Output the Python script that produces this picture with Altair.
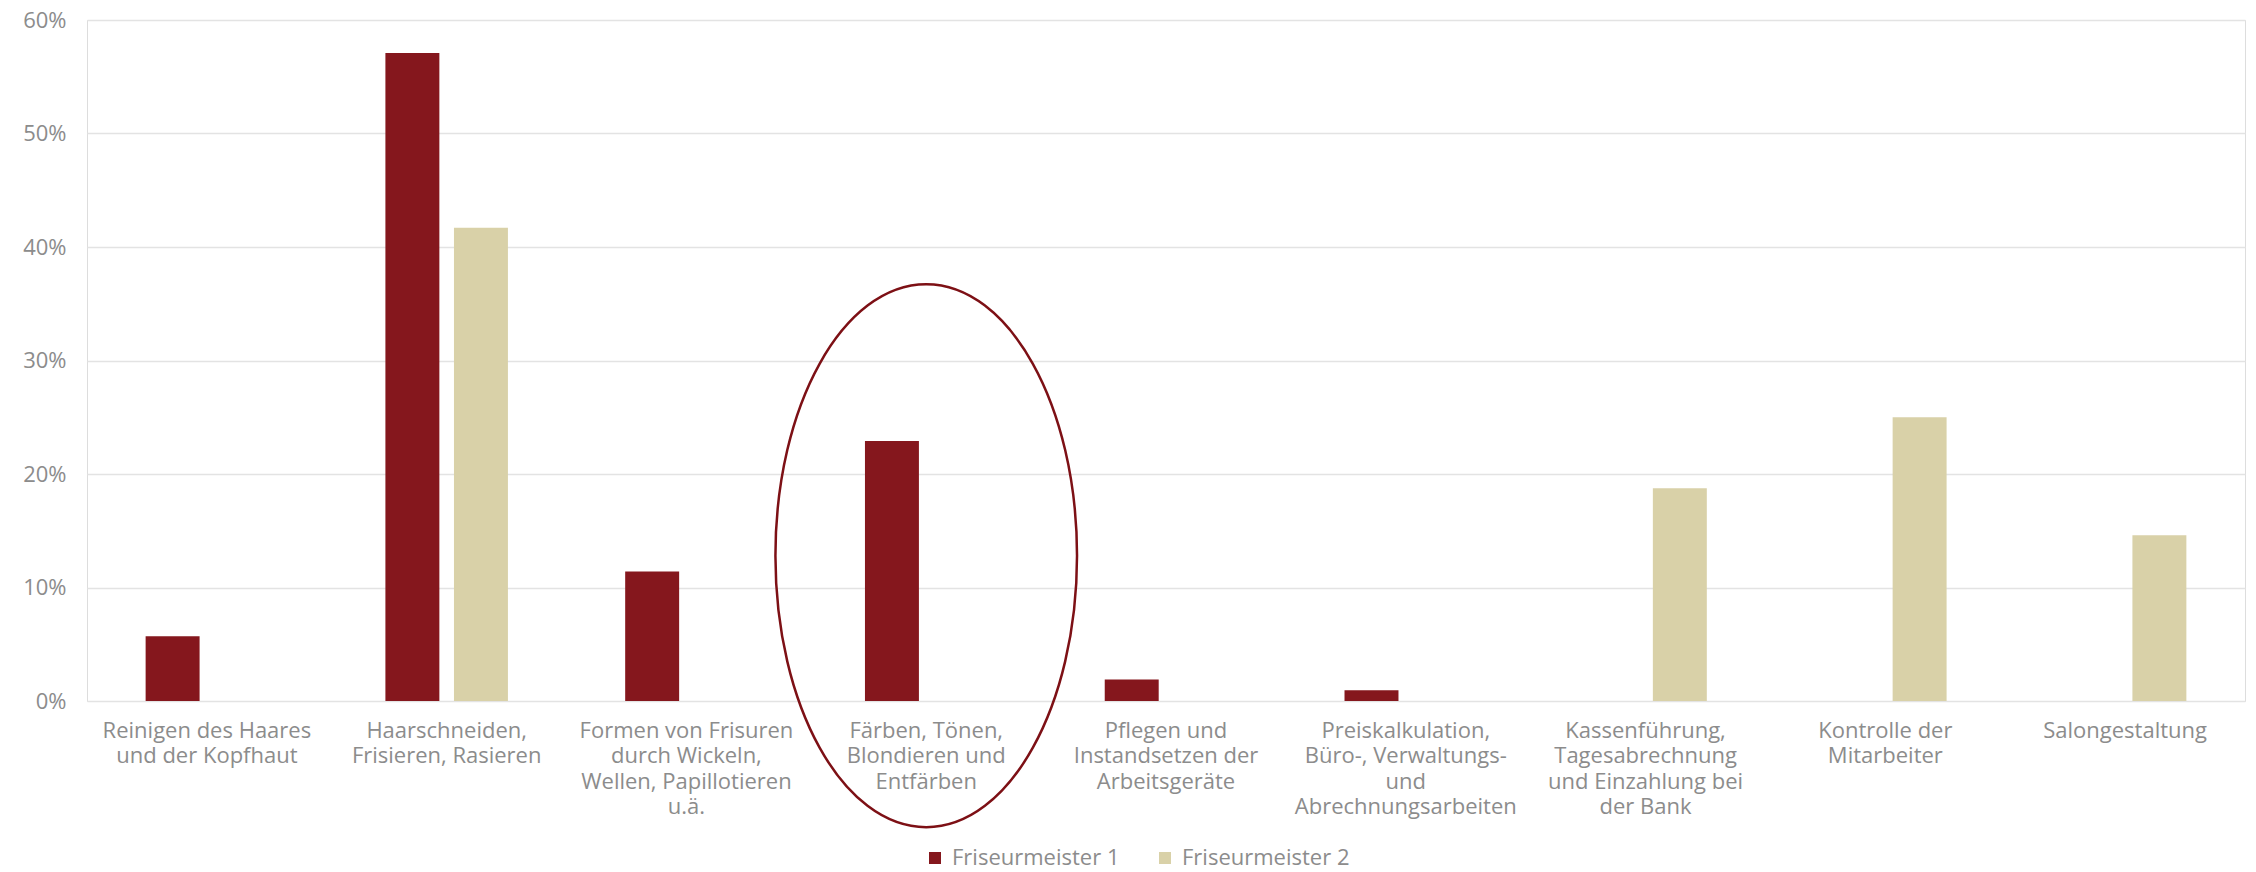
import altair as alt
import pandas as pd

categories = [
    "Reinigen des Haares\nund der Kopfhaut",
    "Haarschneiden,\nFrisieren, Rasieren",
    "Formen von Frisuren\ndurch Wickeln,\nWellen, Papillotieren\nu.ä.",
    "Färben, Tönen,\nBlondieren und\nEntfärben",
    "Pflegen und\nInstandsetzen der\nArbeitsgeräte",
    "Preiskalkulation,\nBüro-, Verwaltungs-\nund\nAbrechnungsarbeiten",
    "Kassenführung,\nTagesabrechnung\nund Einzahlung bei\nder Bank",
    "Kontrolle der\nMitarbeiter",
    "Salongestaltung",
]
series_names = ["Friseurmeister 1", "Friseurmeister 2"]
meister1 = [5.7, 57.1, 11.4, 22.9, 1.9, 0.95, None, None, None]
meister2 = [None, 41.7, None, None, None, None, 18.75, 25.0, 14.6]
colors = ["#85171d", "#d9d1a8"]
y_ticks = [0, 10, 20, 30, 40, 50, 60]

# annotation ellipse around one category
highlight_category = categories[3]
highlight_value = 12.8

rows = []
for c, v1, v2 in zip(categories, meister1, meister2):
    if v1 is not None:
        rows.append({"Kategorie": c, "Serie": series_names[0], "Wert": v1})
    if v2 is not None:
        rows.append({"Kategorie": c, "Serie": series_names[1], "Wert": v2})
df = pd.DataFrame(rows)
ann = pd.DataFrame([{"Kategorie": highlight_category, "Wert": highlight_value}])

FONT = "Open Sans"
GRAY = "#8c8c8c"

x_scale = alt.Scale(domain=categories, paddingInner=0.489, paddingOuter=0.2445)
y_scale = alt.Scale(domain=[0, 60], nice=False)

x_axis = alt.Axis(
    title=None, labelAngle=0, domain=False, ticks=False, tickSize=0,
    labelExpr="split(datum.label, '\\n')", labelFontSize=22, labelColor=GRAY,
    labelFont=FONT, labelPadding=19, labelLineHeight=25.5, labelLimit=400,
)
y_axis = alt.Axis(
    title=None, values=y_ticks, labelExpr="datum.value + '%'", domain=False,
    ticks=False, tickSize=0, labelFontSize=22, labelColor=GRAY, labelFont=FONT,
    labelPadding=21, gridColor="#e3e3e3", gridWidth=1.3,
)

bars = alt.Chart(df).mark_bar().encode(
    x=alt.X("Kategorie:N", scale=x_scale, axis=x_axis, sort=categories),
    xOffset=alt.XOffset("Serie:N", scale=alt.Scale(domain=series_names, paddingInner=0.213, paddingOuter=0)),
    y=alt.Y("Wert:Q", scale=y_scale, axis=y_axis),
    color=alt.Color(
        "Serie:N",
        scale=alt.Scale(domain=series_names, range=colors),
        legend=alt.Legend(
            title=None, orient="none", legendX=837, legendY=827, direction="horizontal",
            symbolType="square", symbolSize=144, symbolStrokeWidth=0,
            labelFontSize=22, labelColor=GRAY, labelFont=FONT, labelOffset=6,
            labelLimit=400, columnPadding=34, padding=0,
        ),
    ),
)

k = 0.5523
ry = 1.8
ellipse_path = (
    f"M -1 0 C -1 {-k*ry:.4f} {-k:.4f} {-ry} 0 {-ry} "
    f"C {k:.4f} {-ry} 1 {-k*ry:.4f} 1 0 "
    f"C 1 {k*ry:.4f} {k:.4f} {ry} 0 {ry} "
    f"C {-k:.4f} {ry} -1 {k*ry:.4f} -1 0 Z"
)

ellipse = alt.Chart(ann).mark_point(
    shape=ellipse_path, size=301.6 ** 2, filled=False, stroke="#7d1015",
    strokeWidth=2.5, opacity=1,
).encode(
    x=alt.X("Kategorie:N", scale=x_scale, sort=categories),
    y=alt.Y("Wert:Q", scale=y_scale),
)

chart = alt.layer(bars, ellipse).properties(
    width=2158, height=681,
    autosize=alt.AutoSizeParams(type="none"),
    padding={"left": 79, "top": 12, "right": 3, "bottom": 170},
).configure_view(stroke=None).configure(font=FONT)

chart.save("out.html", embed_options={"renderer": "svg", "actions": False})
